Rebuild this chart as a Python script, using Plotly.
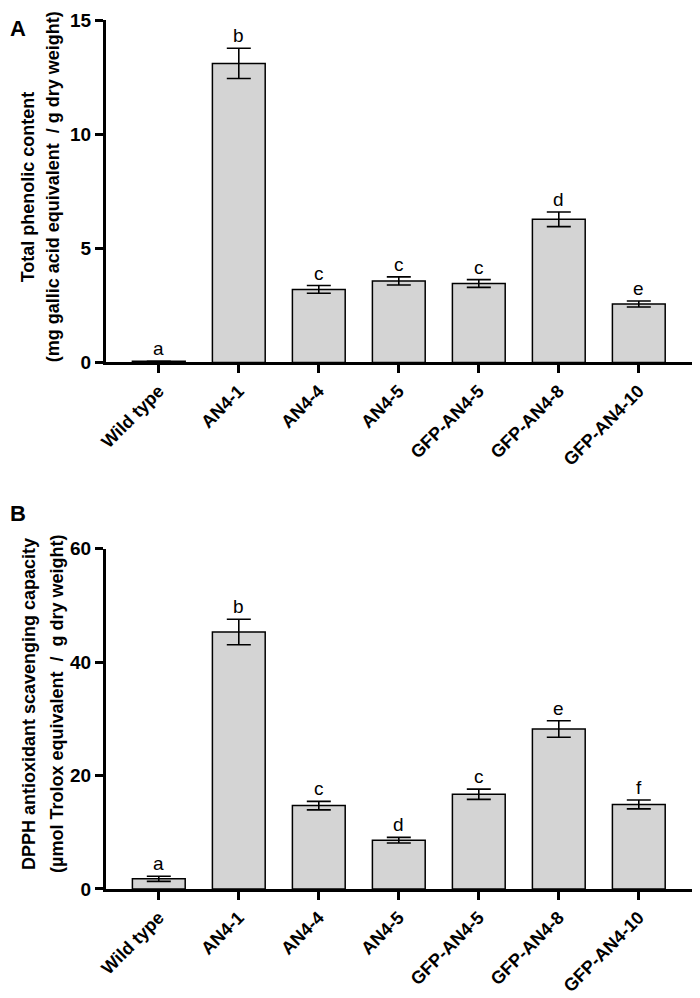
import plotly.graph_objects as go

categories = ["Wild type", "AN4-1", "AN4-4", "AN4-5", "GFP-AN4-5", "GFP-AN4-8", "GFP-AN4-10"]

phenolic_mean = [0.05, 13.1, 3.2, 3.57, 3.46, 6.27, 2.56]
phenolic_err = [0.0, 0.66, 0.17, 0.18, 0.17, 0.32, 0.13]
phenolic_letters = ["a", "b", "c", "c", "c", "d", "e"]

dpph_mean = [1.8, 45.3, 14.7, 8.6, 16.7, 28.2, 14.9]
dpph_err = [0.45, 2.25, 0.75, 0.5, 0.9, 1.45, 0.78]
dpph_letters = ["a", "b", "c", "d", "c", "e", "f"]

yticks_a = [0, 5, 10, 15]
yticks_b = [0, 20, 40, 60]

title_a = ["Total phenolic content", "(mg gallic acid equivalent  / g dry weight)"]
title_b = ["DPPH antioxidant scavenging capacity", "(µmol Trolox equivalent  /  g dry weight)"]

FONT = "Arial, 'Liberation Sans', sans-serif"

# page has an 8px body margin; figure sized to fit
W, H = 692, 990
ML, MR, MT, MB = 98, 2, 2, 105
PW = W - ML - MR
PH = H - MT - MB

def px_x(fx):
    return (fx - ML) / PW

def px_y(fy):
    return 1 - (fy - MT) / PH

fig = go.Figure()

def add_panel(mean, err, letters, xaxis, yaxis):
    fig.add_trace(go.Bar(
        x=categories, y=mean, xaxis=xaxis, yaxis=yaxis,
        width=0.66,
        marker=dict(color="#d4d4d4", line=dict(color="black", width=1.5)),
        error_y=dict(type="data", array=err, visible=True, color="black", thickness=1.6, width=12),
        showlegend=False, hoverinfo="skip",
    ))
    for c, m, e, l in zip(categories, mean, err, letters):
        fig.add_annotation(
            x=c, y=m + e, xref=xaxis, yref=yaxis, text=l, showarrow=False,
            yanchor="bottom", yshift=0, font=dict(size=19, color="black", family=FONT),
        )

add_panel(phenolic_mean, phenolic_err, phenolic_letters, "x", "y")
add_panel(dpph_mean, dpph_err, dpph_letters, "x2", "y2")

axis_common = dict(showline=True, linewidth=3, linecolor="black", ticks="outside",
                   ticklen=8, tickwidth=3, tickcolor="black", showgrid=False, zeroline=False)

xcommon = dict(axis_common, type="category", range=[-0.66, 6.74], tickangle=-45,
               tickvals=categories, ticktext=["<b>%s</b>" % c for c in categories],
               tickfont=dict(family=FONT, size=18, color="black"))

def ycommon(vals):
    return dict(axis_common, tickvals=vals, ticktext=["<b>%d</b>" % v for v in vals],
                tickfont=dict(family=FONT, size=19, color="black"))

fig.update_layout(
    width=W, height=H,
    margin=dict(l=ML, r=MR, t=MT, b=MB),
    plot_bgcolor="white", paper_bgcolor="white",
    font=dict(family=FONT, color="black"),
    xaxis=dict(xcommon, anchor="y", domain=[0, 1]),
    xaxis2=dict(xcommon, anchor="y2", domain=[0, 1]),
    yaxis=dict(ycommon(yticks_a), domain=[0.6059, 1], range=[0, 15]),
    yaxis2=dict(ycommon(yticks_b), anchor="x2", domain=[0, 0.3918], range=[0, 60]),
)

def ytitle(lines, xs, yc):
    for t, x in zip(lines, xs):
        fig.add_annotation(x=px_x(x), y=px_y(yc), xref="paper", yref="paper",
                           text="<b>%s</b>" % t, textangle=-90, showarrow=False,
                           xanchor="center", yanchor="middle",
                           font=dict(family=FONT, size=18, color="black"))

ytitle(title_a, [20, 45], 172)
ytitle(title_b, [21, 49], 697)

fig.add_annotation(x=px_x(0), y=px_y(-4), xref="paper", yref="paper", xanchor="left", yanchor="top",
                   text="<b>A</b>", showarrow=False, font=dict(family=FONT, size=22, color="black"))
fig.add_annotation(x=px_x(0), y=px_y(489), xref="paper", yref="paper", xanchor="left", yanchor="top",
                   text="<b>B</b>", showarrow=False, font=dict(family=FONT, size=22, color="black"))

fig.write_html("out.html")
